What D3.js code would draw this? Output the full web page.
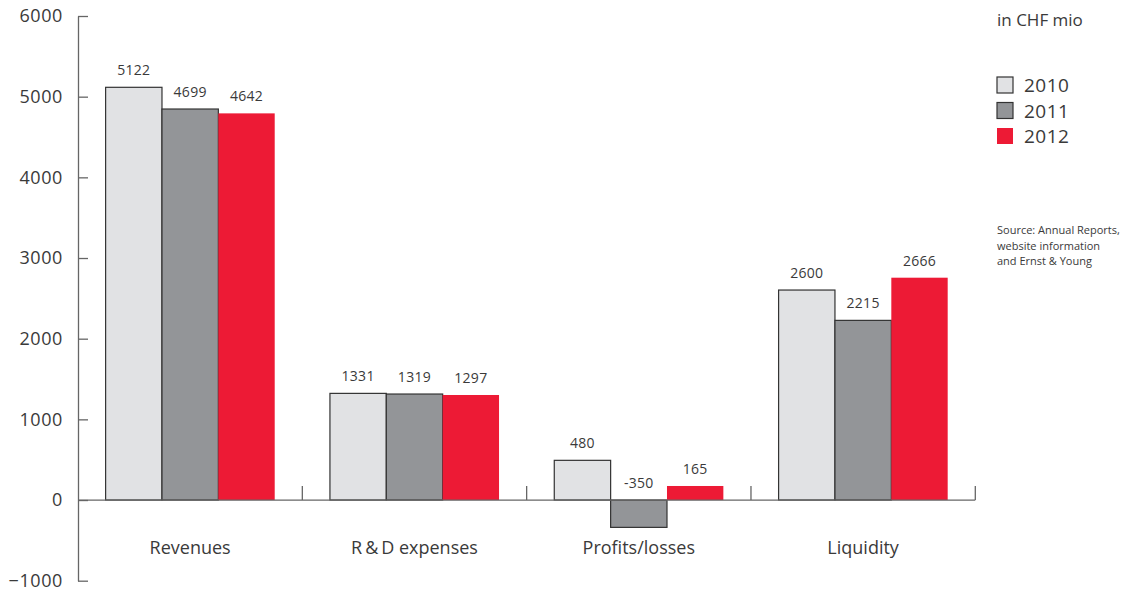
<!DOCTYPE html>
<html>
<head>
<meta charset="utf-8">
<script src="https://cdn.jsdelivr.net/npm/d3@7"></script>
<style>
  body { margin: 0; background: #fff; }
  svg { display: block; font-family: "Open Sans", sans-serif; }
  text { fill: #3a3a3a; }
</style>
</head>
<body>
<div id="chart"></div>
<script>
// categories and series
const categories = ['Revenues', 'R\u2009&\u2009D expenses', 'Profits/losses', 'Liquidity'];
const years = ['2010', '2011', '2012'];

// bar heights as drawn in the picture
const values2010 = [5116, 1322, 492, 2603];
const values2011 = [4847, 1314, -339, 2227];
const values2012 = [4793, 1302, 174, 2756];

// printed value labels
const labels2010 = ['5122', '1331', '480', '2600'];
const labels2011 = ['4699', '1319', '-350', '2215'];
const labels2012 = ['4642', '1297', '165', '2666'];

const yTicks = [-1000, 0, 1000, 2000, 3000, 4000, 5000, 6000];
const colors = ['#e1e2e4', '#939598', '#ed1a35'];
const strokes = ['#333', '#333', 'none'];

const W = 1129, H = 591;

let svg = d3.select('#chart')
  .append('svg')
  .attr('width', W)
  .attr('height', H);

let y = d3.scaleLinear()
  .domain([-1000, 6000])
  .range([580.7, 16]);

let x = d3.scaleBand()
  .domain(categories)
  .range([78, 975.3])
  .padding(0);

let x1 = d3.scaleBand()
  .domain(years)
  .range([0, x.bandwidth()])
  .paddingInner(0)
  .paddingOuter(0.49);

// y axis
let yAxis = d3.axisLeft(y)
  .tickValues(yTicks)
  .tickFormat(d3.format('d'))
  .tickSizeInner(-10)
  .tickSizeOuter(0)
  .tickPadding(15);

let gy = svg.append('g')
  .attr('transform', 'translate(78,0)')
  .call(yAxis);
gy.select('.domain').attr('stroke', '#666').attr('stroke-width', 1.3);
gy.selectAll('.tick line').attr('stroke', '#666').attr('stroke-width', 1.3);
gy.selectAll('.tick text')
  .attr('font-size', 18)
  .attr('letter-spacing', 0.6)
  .attr('font-family', '"Open Sans", sans-serif')
  .style('fill', '#3a3a3a');

// bars
let rows = categories.map(function(c, i) {
  return {
    cat: c,
    items: [
      {year: years[0], v: values2010[i], label: labels2010[i], k: 0},
      {year: years[1], v: values2011[i], label: labels2011[i], k: 1},
      {year: years[2], v: values2012[i], label: labels2012[i], k: 2},
    ],
  };
});

let groups = svg.selectAll('.grp')
  .data(rows)
  .enter()
  .append('g')
  .attr('class', 'grp')
  .attr('transform', d => 'translate(' + x(d.cat) + ',0)');

groups.selectAll('rect')
  .data(d => d.items)
  .enter()
  .append('rect')
  .attr('x', d => x1(d.year))
  .attr('width', x1.bandwidth())
  .attr('y', d => y(Math.max(0, d.v)))
  .attr('height', d => Math.abs(y(d.v) - y(0)))
  .attr('fill', d => colors[d.k])
  .attr('stroke', d => strokes[d.k])
  .attr('stroke-width', 1.2);

groups.selectAll('.val')
  .data(d => d.items)
  .enter()
  .append('text')
  .attr('class', 'val')
  .attr('x', d => x1(d.year) + x1.bandwidth() / 2)
  .attr('y', d => y(Math.max(0, d.v)) - 12)
  .attr('text-anchor', 'middle')
  .attr('font-size', 14)
  .attr('letter-spacing', 0.3)
  .text(d => d.label);

// x axis line with separators
let xAxis = svg.append('g');
xAxis.append('line')
  .attr('x1', x.range()[0])
  .attr('x2', x.range()[1])
  .attr('y1', y(0))
  .attr('y2', y(0))
  .attr('stroke', '#666')
  .attr('stroke-width', 1.3);

xAxis.selectAll('.sep')
  .data(categories)
  .enter()
  .append('line')
  .attr('class', 'sep')
  .attr('x1', d => x(d) + x.bandwidth())
  .attr('x2', d => x(d) + x.bandwidth())
  .attr('y1', y(0))
  .attr('y2', y(0) - 14)
  .attr('stroke', '#666')
  .attr('stroke-width', 1.3);

xAxis.selectAll('.cat')
  .data(categories)
  .enter()
  .append('text')
  .attr('class', 'cat')
  .attr('x', d => x(d) + x.bandwidth() / 2)
  .attr('y', 554)
  .attr('text-anchor', 'middle')
  .attr('font-size', 18)
  .text(d => d);

// unit
svg.append('text')
  .attr('x', 997)
  .attr('y', 26)
  .attr('font-size', 17)
  .text('in CHF mio');

// legend
let legend = svg.append('g')
  .attr('transform', 'translate(997,77)');

let li = legend.selectAll('g')
  .data(years)
  .enter()
  .append('g')
  .attr('transform', (d, i) => 'translate(0,' + (i * 25.5) + ')');

li.append('rect')
  .attr('width', 16)
  .attr('height', 16)
  .attr('fill', (d, i) => colors[i])
  .attr('stroke', (d, i) => strokes[i])
  .attr('stroke-width', 1.2);

li.append('text')
  .attr('x', 27)
  .attr('y', 15)
  .attr('font-size', 19)
  .attr('letter-spacing', 0.5)
  .text(d => d);

// source note
const sourceLines = ['Source: Annual Reports,', 'website information', 'and Ernst & Young'];
svg.append('g')
  .selectAll('text')
  .data(sourceLines)
  .enter()
  .append('text')
  .attr('x', 997)
  .attr('y', (d, i) => 234 + i * 15.7)
  .attr('font-size', 11)
  .text(d => d);
</script>
</body>
</html>
